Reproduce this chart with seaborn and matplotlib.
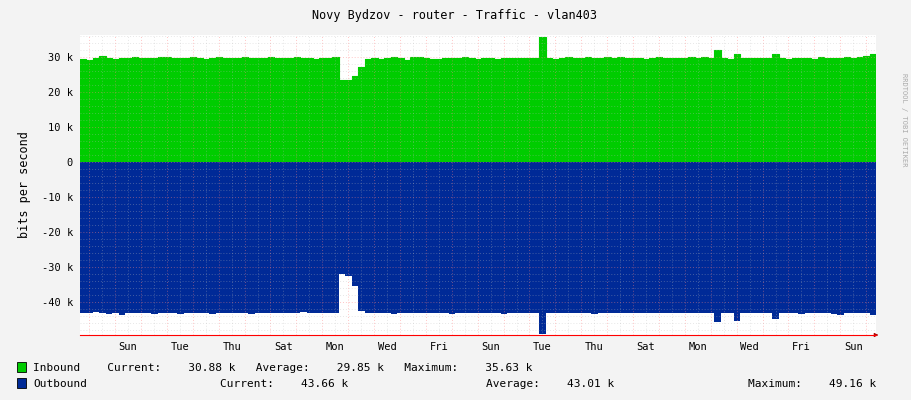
import matplotlib
matplotlib.use("Agg")
import matplotlib.pyplot as plt
import seaborn as sns
import numpy as np
import pandas as pd

title = "Novy Bydzov - router - Traffic - vlan403"
day_labels = ["Sun","Tue","Thu","Sat","Mon","Wed","Fri","Sun","Tue","Thu","Sat","Mon","Wed","Fri","Sun"]
inbound = [29.5,29.3,29.6,30.2,29.7,29.5,29.6,29.8,29.9,29.7,
 29.8,29.6,29.9,30.0,29.8,29.6,29.7,29.9,29.8,29.5,
 29.7,29.9,29.6,29.8,29.7,29.9,29.8,29.6,29.8,29.9,
 29.7,29.8,29.6,29.9,29.8,29.7,29.5,29.8,29.7,29.9,
 23.5,23.5,24.5,27.3,29.4,29.6,29.5,29.7,29.9,29.8,
 29.2,29.9,30.0,29.6,29.4,29.5,29.7,29.8,29.6,29.9,
 29.8,29.5,29.8,29.6,29.5,29.7,29.8,29.8,29.6,29.7,
 29.6,35.6,29.6,29.4,29.7,29.9,29.6,29.8,29.9,29.7,
 29.8,29.9,29.7,30.1,29.8,29.6,29.7,29.5,29.8,29.9,
 29.6,29.7,29.8,29.6,29.9,29.7,30.0,29.6,32.0,29.7,
 29.5,31.0,29.6,29.8,29.6,29.7,29.8,31.0,29.6,29.5,
 29.7,29.8,29.6,29.5,29.9,29.6,29.7,29.8,30.0,29.7,
 29.9,30.4,30.8]
outbound = [43.0,43.2,42.9,43.1,43.3,43.0,43.6,43.1,43.0,43.2,
 43.1,43.4,43.0,43.2,43.1,43.3,43.0,43.2,43.1,43.0,
 43.3,43.1,43.2,43.0,43.1,43.2,43.4,43.0,43.1,43.2,
 43.1,43.0,43.2,43.1,42.8,43.2,43.1,43.0,43.2,43.1,
 32.0,32.5,35.5,42.5,43.1,43.0,43.2,43.1,43.4,43.2,
 43.1,43.0,43.2,43.1,43.2,43.0,43.1,43.3,43.1,43.0,
 43.2,43.1,43.0,43.2,43.1,43.3,43.0,43.2,43.1,43.0,
 43.2,49.2,43.1,43.0,43.2,43.1,43.0,43.2,43.1,43.3,
 43.0,43.2,43.1,43.0,43.2,43.1,43.0,43.2,43.1,43.0,
 43.2,43.1,43.0,43.2,43.1,43.0,43.2,43.1,45.6,43.2,
 43.1,45.3,43.0,43.2,43.1,43.0,43.2,44.8,43.1,43.0,
 43.2,43.4,43.1,43.0,43.2,43.1,43.5,43.6,43.2,43.1,
 43.0,43.2,43.66]

xmax = 796 / 25.9
n = len(inbound)
days = list(np.arange(n) * (xmax / n)) + [xmax]
df = pd.DataFrame({"day": days,
                   "in": np.array(inbound + [inbound[-1]]) * 1000,
                   "out": -np.array(outbound + [outbound[-1]]) * 1000})

bg = "#f3f3f3"
plt.rcParams["font.family"] = ["DejaVu Sans Mono"]
plt.rcParams["font.size"] = 7.5
fig = plt.figure(figsize=(9.11, 4.0), dpi=100, facecolor=bg)
ax = fig.add_axes([80/911, 65/400, 796/911, 300/400])
ax.set_facecolor("white")

ax.fill_between(df["day"], 0, df["in"], step="post", color="#00cc00", lw=0, zorder=2)
ax.fill_between(df["day"], 0, df["out"], step="post", color="#002a97", lw=0, zorder=2)
sns.lineplot(x=df["day"], y=df["in"], drawstyle="steps-post", color="#00cc00", lw=0.8, ax=ax, zorder=2)

ax.set_xlim(0, xmax)
ax.set_ylim(-49400, 36300)
off = 0.355
for k in range(31):
    d = off + k
    if d < xmax:
        ax.axvline(d, color="#ff8080", ls=(0, (1, 2)), lw=0.7, alpha=0.45, zorder=3)
    if d + 0.5 < xmax:
        ax.axvline(d + 0.5, color="#bbbbbb", ls=(0, (1, 2)), lw=0.7, alpha=0.35, zorder=3)
for v in range(-48000, 36001, 2000):
    if v % 10000 == 0:
        ax.axhline(v, color="#ff8080", ls=(0, (1, 2)), lw=0.7, alpha=0.45, zorder=3)
    else:
        ax.axhline(v, color="#bbbbbb", ls=(0, (1, 2)), lw=0.7, alpha=0.35, zorder=3)

yt = [30000, 20000, 10000, 0, -10000, -20000, -30000, -40000]
ax.set_yticks(yt)
ax.set_yticklabels([f"{int(v/1000)} k" if v != 0 else "0" for v in yt])
xt = [off + 1.5 + 2 * i for i in range(len(day_labels))]
ax.set_xticks(xt)
ax.set_xticklabels(day_labels)
ax.tick_params(length=0, pad=5, colors="#000000")
ax.set_xlabel("")
ax.set_ylabel("bits per second", fontsize=8.5, labelpad=8)
for s in ax.spines.values():
    s.set_visible(False)
ax.axhline(-49400, color="#ff0000", lw=0.8, zorder=4, clip_on=False)
ax.annotate("", xy=(xmax + 0.2, -49400), xytext=(xmax - 0.1, -49400),
            arrowprops=dict(arrowstyle="-|>", color="#aa0000", lw=0.6, mutation_scale=6), annotation_clip=False)

fig.text(455/911, 1 - 15/400, title, ha="center", va="center", fontsize=8.5)
fig.text(904/911, 0.7, "RRDTOOL / TOBI OETIKER", rotation=270, ha="center", va="center", fontsize=5, color="#aaaaaa")

def sw(x, y, c):
    fig.patches.append(plt.Rectangle((x/911, 1 - (y+5)/400), 9/911, 10/400, transform=fig.transFigure,
                                     facecolor=c, edgecolor="black", lw=0.6))
sw(17, 367, "#00cc00")
sw(17, 383, "#002a97")
fs = 8
fig.text(33/911, 1 - 368/400, "Inbound    Current:    30.88 k   Average:    29.85 k   Maximum:    35.63 k", va="center", fontsize=fs)
fig.text(33/911, 1 - 384/400, "Outbound", va="center", fontsize=fs)
fig.text(220/911, 1 - 384/400, "Current:    43.66 k", va="center", fontsize=fs)
fig.text(486/911, 1 - 384/400, "Average:    43.01 k", va="center", fontsize=fs)
fig.text(748/911, 1 - 384/400, "Maximum:    49.16 k", va="center", fontsize=fs)
fig.savefig("out.png", dpi=100, facecolor=bg)
